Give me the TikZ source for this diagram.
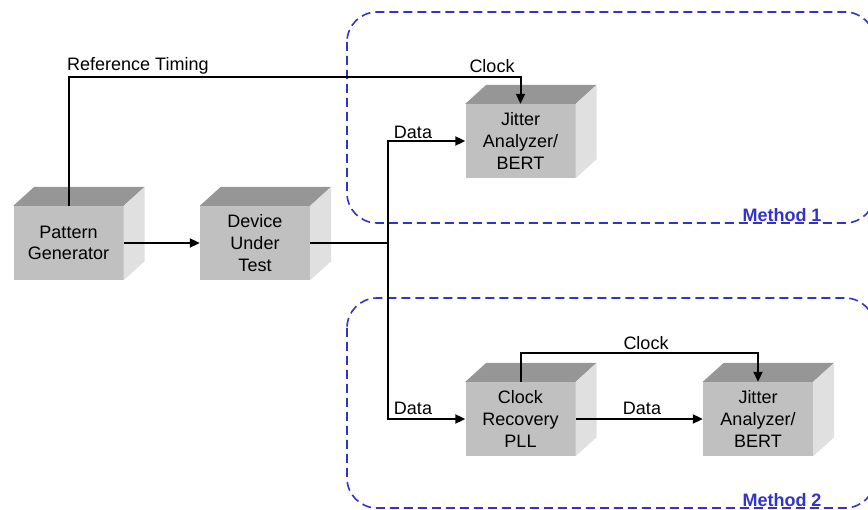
\documentclass[tikz,border=0pt]{standalone}
\usepackage{fontspec}
\setmainfont{Liberation Sans}
\usetikzlibrary{arrows.meta}
\definecolor{frontc}{RGB}{192,192,192}
\definecolor{topc}{RGB}{150,150,150}
\definecolor{sidec}{RGB}{224,224,224}
\definecolor{methblue}{RGB}{51,51,204}
\newcommand\cubefaces[1]{%
  \fill[topc] (#1.north west) -- ([shift={(21,-19)}]#1.north west) -- ([shift={(21,-19)}]#1.north east) -- (#1.north east) -- cycle;
  \fill[sidec] (#1.north east) -- ([shift={(21,-19)}]#1.north east) -- ([shift={(21,-19)}]#1.south east) -- (#1.south east) -- cycle;}
\begin{document}
\begin{tikzpicture}[x=1pt,y=-1pt,
  block/.style={fill=frontc, minimum width=110pt, minimum height=74pt, inner sep=0pt, align=center, font=\fontsize{18}{21.6}\selectfont},
  lbl/.style={font=\fontsize{18}{21.6}\selectfont, inner sep=0pt},
  conn/.style={line width=2pt, -{Triangle[length=10pt,width=9pt]}},
  plain/.style={line width=2pt},
  method/.style={draw=methblue, line width=1.6pt, dash pattern=on 9pt off 5pt, rounded corners=30pt},
  mlabel/.style={text=methblue, font=\fontsize{18}{21.6}\selectfont\bfseries, inner sep=0pt}]
\useasboundingbox (0,0) rectangle (868,510);
\begin{scope}
  \clip (0,0) rectangle (868,510);
  \draw[method] (347,12) rectangle (875,223);
  \draw[method] (347,298) rectangle (875,508);
\end{scope}
\node[mlabel] (m1) at (782,215) {Method 1};
\node[mlabel] (m2) at (782,500) {Method 2};

\node[block] (pg) at (68.5,243) {Pattern\\Generator};
\node[block] (dut) at (255,243) {Device\\Under\\Test};
\node[block] (ja1) at (520.5,141) {Jitter\\Analyzer/\\BERT};
\node[block] (cr) at (520.5,419) {Clock\\Recovery\\PLL};
\node[block] (ja2) at (758,419) {Jitter\\Analyzer/\\BERT};
\cubefaces{pg}
\cubefaces{dut}
\cubefaces{ja1}
\cubefaces{cr}
\cubefaces{ja2}

\coordinate (rt) at (68.5,77);
\coordinate (split) at (388,243);
\draw[conn] (pg.north) -- (rt) -| (ja1.north);
\draw[conn] (pg.east) -- (dut.west);
\draw[plain] (dut.east) -- (split);
\draw[conn] (split) |- (ja1.west);
\draw[conn] (split) |- (cr.west);
\draw[conn] (cr.east) -- (ja2.west);
\draw[conn] (cr.north) -- ++(0,-29) -| (ja2.north);

\node[lbl, anchor=west] (trt) at (67,66) {Reference Timing};
\node[lbl] (tc1) at (492,66) {Clock};
\node[lbl] (td1) at (413,132) {Data};
\node[lbl] (td2) at (413,408) {Data};
\node[lbl] (td3) at (642,408) {Data};
\node[lbl] (tc2) at (646,343) {Clock};
\end{tikzpicture}
\end{document}
